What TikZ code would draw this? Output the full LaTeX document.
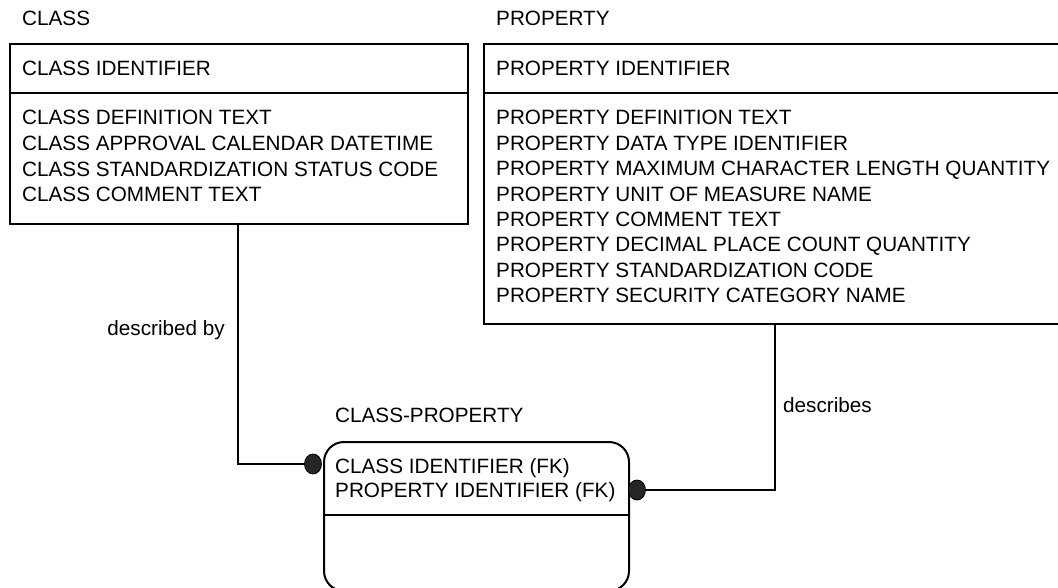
\documentclass[tikz,border=0pt]{standalone}
\usepackage{fontspec}
\setmainfont{Liberation Sans}
\usetikzlibrary{shapes.geometric}
\begin{document}
\begin{tikzpicture}[x=1pt,y=-1pt,
  txt/.style={font=\fontsize{20.7}{25}\selectfont, inner sep=0pt, anchor=base west},
  ent/.style={draw=black, line width=2pt, inner sep=0pt, anchor=north west},
  conn/.style={draw=black, line width=1.4pt},
  dotend/.style={ellipse, draw=black, line width=0.8pt, fill=black!85, minimum width=17pt, minimum height=20pt, inner sep=0pt}]
\useasboundingbox (0,0) rectangle (1058,588);
% CLASS entity
\node[txt] (tclass) at (22,25.7) {CLASS};
\node[ent, minimum width=458pt, minimum height=180pt] (classbox) at (9,43) {};
\draw[line width=2pt] (9,93) -- (467,93);
\node[txt] (cid) at (22,75.7) {CLASS IDENTIFIER};
\foreach \t [count=\i] in {CLASS DEFINITION TEXT, CLASS APPROVAL CALENDAR DATETIME, CLASS STANDARDIZATION STATUS CODE, CLASS COMMENT TEXT}
  \node[txt] (ca\i) at (22,125+25.6*\i-25.6) {\t};
% PROPERTY entity
\node[txt] (tprop) at (496,25.7) {PROPERTY};
\node[ent, minimum width=600pt, minimum height=280pt] (propbox) at (483,43) {};
\draw[line width=2pt] (483,93) -- (1083,93);
\node[txt] (pid) at (496,75.7) {PROPERTY IDENTIFIER};
\foreach \t [count=\i] in {PROPERTY DEFINITION TEXT, PROPERTY DATA TYPE IDENTIFIER, PROPERTY MAXIMUM CHARACTER LENGTH QUANTITY, PROPERTY UNIT OF MEASURE NAME, PROPERTY COMMENT TEXT, PROPERTY DECIMAL PLACE COUNT QUANTITY, PROPERTY STANDARDIZATION CODE, PROPERTY SECURITY CATEGORY NAME}
  \node[txt] (pa\i) at (496,125+25.4*\i-25.4) {\t};
% CLASS-PROPERTY entity
\node[txt] (tcp) at (335,422.4) {CLASS-PROPERTY};
\node[ent, rounded corners=20pt, minimum width=305pt, minimum height=149pt] (cpbox) at (323,441) {};
\draw[line width=2pt] (323,515) -- (628,515);
\node[txt] (cp1) at (335,473.4) {CLASS IDENTIFIER (FK)};
\node[txt] (cp2) at (335,497.4) {PROPERTY IDENTIFIER (FK)};
% relationship ends
\node[dotend] (ldot) at (313,464) {};
\node[dotend] (rdot) at (637,490) {};
\coordinate (lturn) at (238,223);
\coordinate (rturn) at (775,323);
\draw[conn] (lturn) |- (ldot.west);
\draw[conn] (rturn) |- (rdot.east);
\node[txt, anchor=base east] (lbl1) at (225,335) {described by};
\node[txt] (lbl2) at (783,412) {describes};
\end{tikzpicture}
\end{document}
